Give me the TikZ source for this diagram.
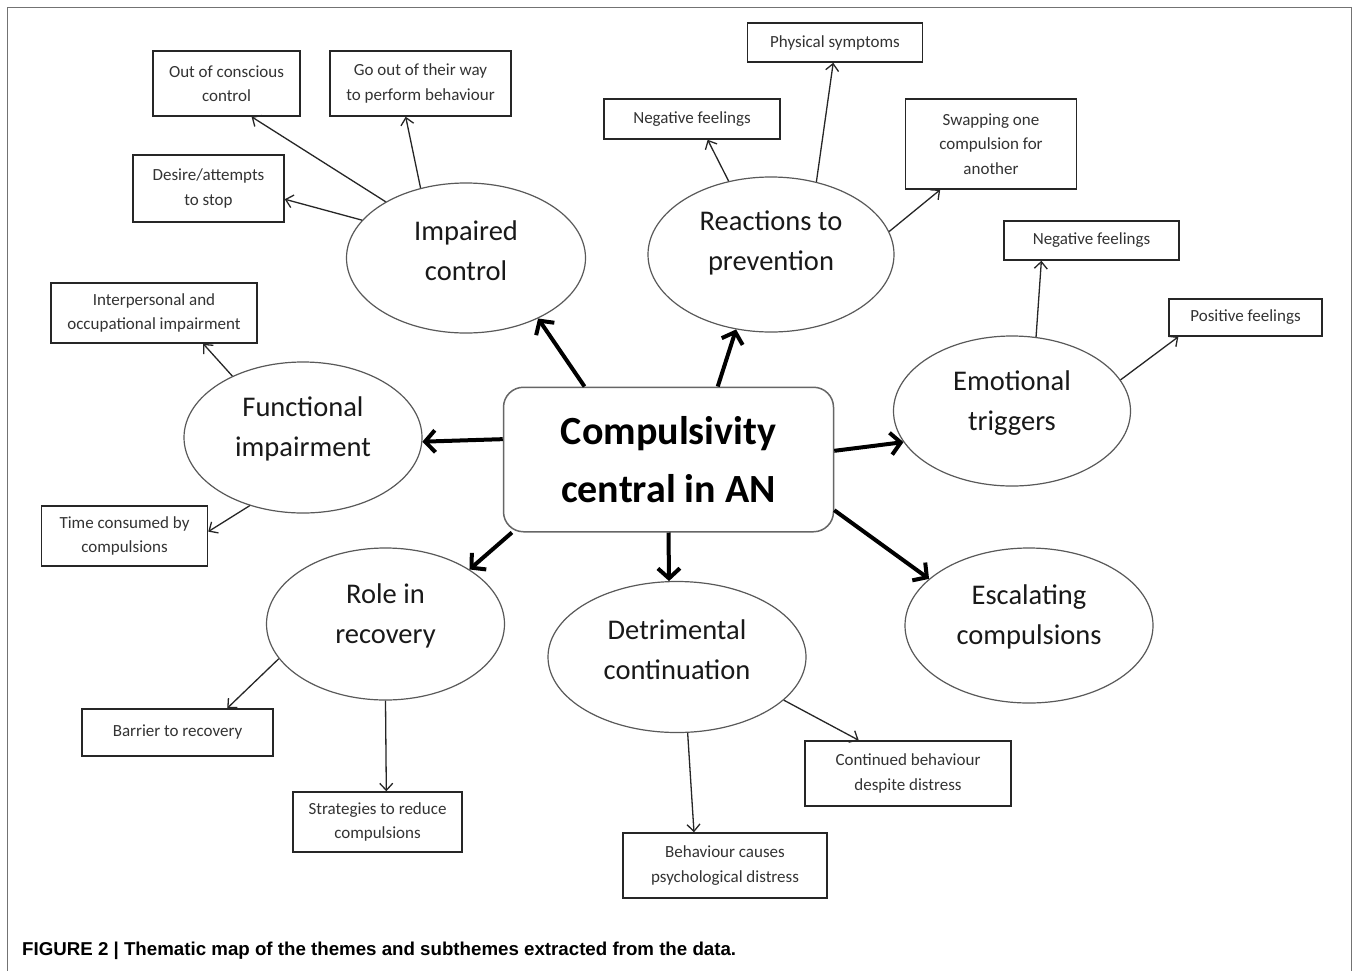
\documentclass[tikz,border=0pt]{standalone}
\usepackage{fontspec}
\setmainfont{Carlito}
\newfontfamily\capfont{Liberation Sans}
\usetikzlibrary{arrows.meta,shapes.geometric}
\begin{document}
\begin{tikzpicture}[x=1pt,y=-1pt,
  sub/.style={rectangle, draw=black!85, line width=1.5pt, fill=white, text=black!80, align=center,
    font=\fontsize{17}{24.5}\selectfont, inner sep=0pt},
  theme/.style={ellipse, draw=black!65, line width=1.2pt, inner sep=0pt},
  themetext/.style={align=center, font=\fontsize{28.5}{40}\selectfont, text=black!90, inner sep=0pt},
  core/.style={rectangle, rounded corners=20pt, draw=black!60, line width=1.5pt, minimum width=330pt,
    minimum height=144.5pt, align=center, font=\bfseries\fontsize{40}{58}\selectfont, inner sep=0pt},
  subarrow/.style={draw=black!85, line width=1.3pt, -{Straight Barb[length=7pt,width=13pt]}},
  mainarrow/.style={draw=black, line width=4pt, -{Straight Barb[length=10pt,width=22pt]}}]
\useasboundingbox (0,0) rectangle (1358,970);
\fill[white] (0,0) rectangle (1358,970);
\draw[black!55, line width=1pt] (7,975) -- (7,7) -- (1351,7) -- (1351,975);

% central
\node[core] (cen) at (668.5,459.5) {Compulsivity\\central in AN};

% themes
\node[theme, minimum width=239pt, minimum height=150pt] (imp) at (466,258) {};
\node[themetext] (impt) at (466,250.5) {Impaired\\control};
\node[theme, minimum width=246pt, minimum height=155pt] (rea) at (771,254.5) {};
\node[themetext] (reat) at (771,242.5) {Reactions to\\prevention};
\node[theme, minimum width=238pt, minimum height=151pt] (fun) at (303,437.5) {};
\node[themetext] (funt) at (303,429) {Functional\\impairment};
\node[theme, minimum width=237pt, minimum height=150pt] (emo) at (1012,411) {};
\node[themetext] (emot) at (1012,403.5) {Emotional\\triggers};
\node[theme, minimum width=248pt, minimum height=155pt] (esc) at (1029,625.5) {};
\node[themetext] (esct) at (1029,616.7) {Escalating\\compulsions};
\node[theme, minimum width=238pt, minimum height=152pt] (rol) at (385.5,624) {};
\node[themetext] (rolt) at (385.5,616) {Role in\\recovery};
\node[theme, minimum width=258pt, minimum height=151pt] (det) at (677,657) {};
\node[themetext] (dett) at (677,650) {Detrimental\\continuation};

% subthemes
\node[sub, minimum width=147pt, minimum height=65pt] (ooc) at (226.5,83.5) {Out of conscious\\control};
\node[sub, minimum width=181pt, minimum height=65pt] (goo) at (420.5,83.5) {Go out of their way\\to perform behaviour};
\node[sub, minimum width=151pt, minimum height=67pt] (des) at (208.5,188.5) {Desire/attempts\\to stop};
\node[sub, minimum width=206pt, minimum height=60pt] (ipo) at (154,313) {Interpersonal and\\occupational impairment};
\node[sub, minimum width=166pt, minimum height=60pt] (tim) at (124.5,536) {Time consumed by\\compulsions};
\node[sub, minimum width=191pt, minimum height=47pt] (bar) at (177.5,732.5) {Barrier to recovery};
\node[sub, minimum width=169pt, minimum height=60pt] (str) at (377.5,822) {Strategies to reduce\\compulsions};
\node[sub, minimum width=204pt, minimum height=65pt] (beh) at (725,865.5) {Behaviour causes\\psychological distress};
\node[sub, minimum width=206pt, minimum height=65pt] (con) at (908,773.5) {Continued behaviour\\despite distress};
\node[sub, minimum width=176pt, minimum height=40pt] (nfl) at (692,119) {Negative feelings};
\node[sub, minimum width=175pt, minimum height=39pt] (phy) at (835,42.5) {Physical symptoms};
\node[sub, minimum width=171pt, minimum height=90pt] (swp) at (991,144) {Swapping one\\compulsion for\\another};
\node[sub, minimum width=175pt, minimum height=39pt] (nfr) at (1091.5,240.5) {Negative feelings};
\node[sub, minimum width=153pt, minimum height=37pt] (pos) at (1245.5,317.5) {Positive feelings};

% thin arrows
\draw[subarrow] (imp.145.3) -- (ooc.-53);
\draw[subarrow] (imp.123.3) -- (goo.-114);
\draw[subarrow] (imp.160.4) -- (des.-8.7);
\draw[subarrow] (rea.120.1) -- (nfl.-53.1);
\draw[subarrow] (rea.58.7) -- (phy.-95.9);
\draw[subarrow] (rea.11.8) -- (swp.-138);
\draw[subarrow] (emo.72.9) -- (nfr.-158.1);
\draw[subarrow] (emo.16.1) -- (pos.-164.7);
\draw[subarrow] (fun.139.6) -- (ipo.-32.6);
\draw[subarrow] (fun.-128.9) -- (tim.3.7);
\draw[subarrow] (rol.-162.5) -- (bar.26.1);
\draw[subarrow] (rol.-90) -- (str.74.2);
\draw[subarrow] (det.-82.1) -- (beh.133.8);
\draw[subarrow] (det.-22.3) -- (con.146.9);

% thick arrows
\draw[mainarrow] (cen.173.8) -- (fun.-2);
\draw[mainarrow] (cen.139.8) -- (imp.-40.9);
\draw[mainarrow] (cen.56.2) -- (rea.-115.1);
\draw[mainarrow] (cen.3.6) -- (emo.-164.1);
\draw[mainarrow] (cen.-17.5) -- (esc.155.3);
\draw[mainarrow] (cen.-90) -- (det.96.1);
\draw[mainarrow] (cen.-155.5) -- (rol.33.3);

% caption
\node[anchor=base west, inner sep=0pt] (cap) at (22,955)
  {\resizebox{714pt}{13.5pt}{\capfont\bfseries\fontsize{18}{20}\selectfont FIGURE 2 | Thematic map of the themes and subthemes extracted from the data.}};
\end{tikzpicture}
\end{document}
